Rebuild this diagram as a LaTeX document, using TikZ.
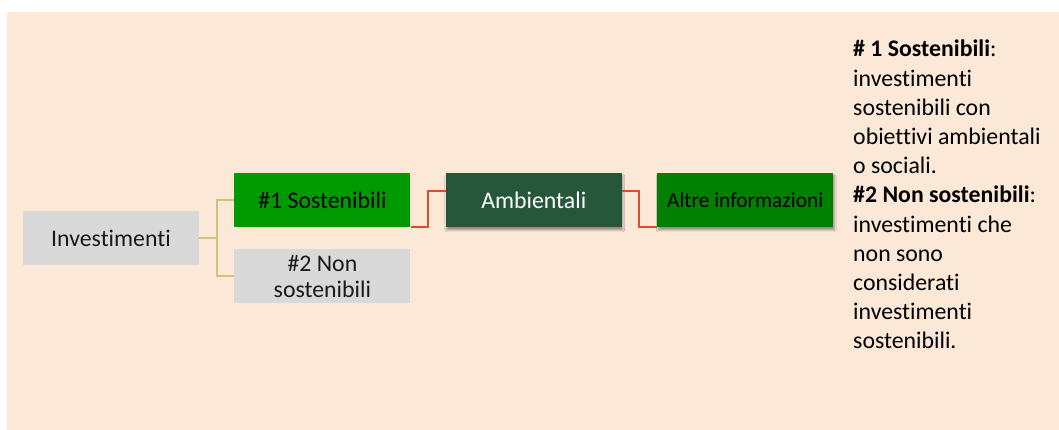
\documentclass[tikz,border=0pt]{standalone}
\usepackage{fontspec}
\setmainfont{Carlito}[Ligatures=NoCommon]
\usepackage{xcolor}
\usetikzlibrary{positioning, shadows.blur}

\definecolor{bgbeige}{HTML}{FBE8D7}
\definecolor{boxgrey}{HTML}{D9D9D9}
\definecolor{brightgreen}{HTML}{009A00}
\definecolor{darkgreen}{HTML}{26573B}
\definecolor{midgreen}{HTML}{007F00}
\definecolor{branchline}{HTML}{CFC27A}
\definecolor{linkred}{HTML}{D4512B}

\begin{document}
\begin{tikzpicture}[
    x=1pt, y=1pt,
    every node/.style={rectangle, minimum width=176pt, minimum height=54pt, inner sep=0pt, align=center,
        font=\fontsize{23.8}{26}\selectfont},
    greybox/.style={fill=boxgrey, text=black!90},
    greenbox/.style={fill=brightgreen, text=black},
    ambbox/.style={fill=darkgreen, text=white, blur shadow={shadow xshift=1pt, shadow yshift=-3pt, shadow blur steps=6}},
    infobox/.style={fill=midgreen, text=black, font=\fontsize{21.4}{24}\selectfont,
        blur shadow={shadow xshift=1pt, shadow yshift=-3pt, shadow blur steps=6}},
    branch/.style={draw=branchline, line width=2pt},
    link/.style={draw=linkred, line width=2pt}
]

% Background
\useasboundingbox (0,0) rectangle (1059,430);
\fill[bgbeige] (7,0) rectangle (1059,418);

% Nodes
\node[greybox] (inv) at (111,192) {Investimenti};
\node[greenbox, right=35pt of inv, yshift=38pt] (sost) {\#1 Sostenibili};
\node[greybox, below=22pt of sost] (nonsost) {\#2 Non\\sostenibili};
\node[ambbox, right=35pt of sost] (amb) {Ambientali};
\node[infobox, right=35pt of amb] (altre) {Altre informazioni};

% Legend
\node[anchor=north west, minimum width=0pt, minimum height=0pt, align=left,
    font=\fontsize{23.8}{29.2}\selectfont] (legend) at (853,390)
    {\textbf{\# 1 Sostenibili}:\\investimenti\\sostenibili con\\obiettivi ambientali\\o sociali.\\
     \textbf{\#2 Non sostenibili}:\\investimenti che\\non sono\\considerati\\investimenti\\sostenibili.};

% Connectors
\draw[branch] (inv.east) -- ++(18,0) |- (sost.west);
\draw[branch] (inv.east) -- ++(18,0) |- (nonsost.west);
\draw[link] (sost.south east) -- ++(17,0) |- ([yshift=9pt]amb.west);
\draw[link] ([yshift=9pt]amb.east) -- ++(17,0) |- (altre.south west);

\end{tikzpicture}
\end{document}
